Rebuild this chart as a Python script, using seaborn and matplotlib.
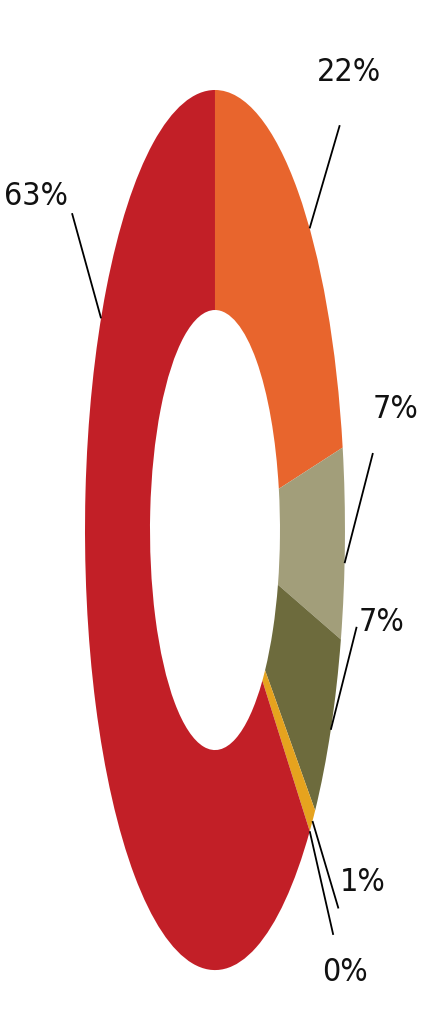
import numpy as np
import matplotlib
matplotlib.use("Agg")
import matplotlib.pyplot as plt
from matplotlib import font_manager
import seaborn as sns

# slices, clockwise from 12 o'clock
labels = ["22%", "7%", "7%", "1%", "0%", "63%"]
values = [22, 7, 7, 1, 0, 63]
colors = ["#E8652D", "#A29E7A", "#6D6B3D", "#E6A31E", "#7A1E1E", "#C21F27"]

# label layout (data units of the stretched axes)
text_pos = [(1.03, 1.04), (1.39, 0.275), (1.28, -0.21), (1.14, -0.80), (1.00, -1.005), (-1.38, 0.757)]
line_start = [(0.96, 0.92), (1.215, 0.175), (1.09, -0.22), (0.95, -0.86), (0.91, -0.92), (-1.10, 0.72)]
anchor_frac = [0.41, 0.40, 0.50, 0.50, 0.50, 0.27]

sns.set_theme(style="white")
names = {f.name for f in font_manager.fontManager.ttflist}
font = "Liberation Sans Narrow" if "Liberation Sans Narrow" in names else "DejaVu Sans"
plt.rcParams["font.family"] = [font, "DejaVu Sans"]

fig = plt.figure(figsize=(4.21, 10.22), dpi=100)
ax = fig.add_axes([0, 0, 1, 1])
wedges, _ = ax.pie(values, colors=colors, startangle=90, counterclock=False,
                   radius=1, wedgeprops=dict(width=0.5, edgecolor="none"))
ax.set_aspect("auto")
ax.set_xlim(-1.654, 1.585)
ax.set_ylim(-1.118, 1.2045)
ax.axis("off")

for w, lab, tp, ls, fr in zip(wedges, labels, text_pos, line_start, anchor_frac):
    ang = np.deg2rad(w.theta1 + fr * (w.theta2 - w.theta1))
    ax_x, ax_y = np.cos(ang), np.sin(ang)
    ax.plot([ls[0], ax_x], [ls[1], ax_y], color="black", lw=1.3, solid_capstyle="butt")
    ax.text(tp[0], tp[1], lab, ha="center", va="center", fontsize=23,
            fontstretch="condensed", color="#111111")

fig.savefig("out.png", dpi=100, facecolor="white")
